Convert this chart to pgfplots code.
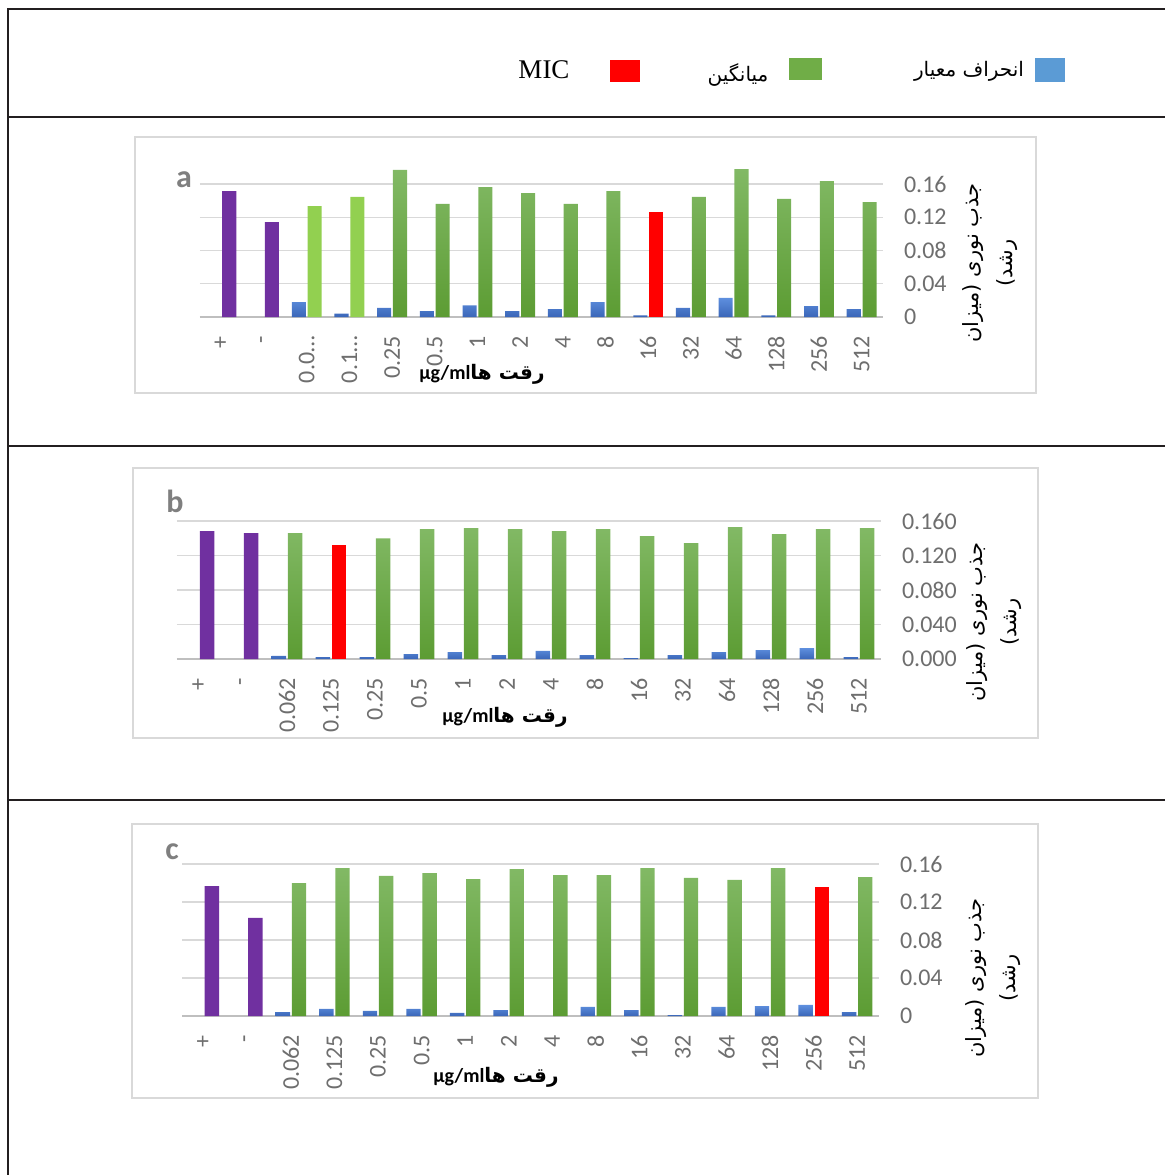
\documentclass[border=0pt]{standalone}
\usepackage{fontspec}
\usepackage{pgfplots}
\pgfplotsset{compat=1.18}
\setmainfont{Carlito}
\newfontfamily\arabicfont[Script=Arabic]{DejaVu Sans}
\newfontfamily\timesfont{Liberation Serif}
\TeXXeTstate=1

\definecolor{frame}{HTML}{231F20}
\definecolor{boxgray}{HTML}{D9D9D9}
\definecolor{gridgray}{HTML}{D9D9D9}
\definecolor{basegray}{HTML}{BFBFBF}
\definecolor{labelgray}{HTML}{6E6E6E}
\definecolor{lettergray}{HTML}{7F7F7F}
\definecolor{sdtop}{HTML}{5E8FDE}
\definecolor{sdbot}{HTML}{3A66B8}
\definecolor{gtop}{HTML}{82B965}
\definecolor{gbot}{HTML}{5C9C33}
\definecolor{lgreen}{HTML}{92D050}
\definecolor{ctrl}{HTML}{7030A0}
\definecolor{mic}{HTML}{FF0000}
\definecolor{legblue}{HTML}{5B9BD5}
\definecolor{leggreen}{HTML}{70AD47}

\pgfplotsset{
  panel/.style={
    scale only axis, anchor=south west,
    ybar, bar width=0.33,
    xmin=-0.5, xmax=15.5, ymin=0,
    xtick={0,...,15},
    axis line style={draw=none},
    ymajorgrids, grid style={draw=gridgray, line width=0.6pt},
    extra y ticks={0}, extra y tick labels={},
    extra y tick style={grid style={draw=basegray, line width=0.8pt}},
    tick style={draw=none}, major tick length=0pt,
    yticklabel pos=right, yticklabel shift=7pt,
    xticklabel shift=6pt,
    tick label style={font=\fontsize{12}{14}\selectfont, text=labelgray},
    xticklabel style={rotate=90, anchor=east},
    yticklabel style={anchor=west},
    clip=false,
  },
  sd/.style={draw=none, bar shift=-0.185, top color=sdtop, bottom color=sdbot},
  mean/.style={draw=none, bar shift=0.185, top color=gtop, bottom color=gbot},
  mctrl/.style={draw=none, bar shift=0.185, fill=ctrl},
  mlight/.style={draw=none, bar shift=0.185, fill=lgreen},
  mmic/.style={draw=none, bar shift=0.185, fill=mic},
}

\begin{document}
\begin{tikzpicture}

% panel a
\begin{axis}[panel, at={(100pt,-158.5pt)}, width=341.5pt, height=74.8pt,
  ymax=0.18, ytick={0,0.04,0.08,0.12,0.16},
  yticklabels={0,0.04,0.08,0.12,0.16},
  xticklabels={+,-,0.0…,0.1…,0.25,0.5,1,2,4,8,16,32,64,128,256,512}]
\addplot[sd] coordinates {(2,0.018) (3,0.004) (4,0.011) (5,0.007) (6,0.014) (7,0.007) (8,0.0096) (9,0.018) (10,0.002) (11,0.011) (12,0.023) (13,0.002) (14,0.013) (15,0.0096)};
\addplot[mctrl] coordinates {(0,0.1516) (1,0.1143)};
\addplot[mlight] coordinates {(2,0.1335) (3,0.1444)};
\addplot[mean] coordinates {(4,0.177) (5,0.136) (6,0.1564) (7,0.149) (8,0.136) (9,0.1516) (11,0.1444) (12,0.178) (13,0.142) (14,0.1636) (15,0.1383)};
\addplot[mmic] coordinates {(10,0.1263)};
\end{axis}

% panel b
\begin{axis}[panel, at={(88.5pt,-329.5pt)}, width=352pt, height=69pt,
  ymax=0.16, ytick={0,0.04,0.08,0.12,0.16},
  yticklabels={0.000,0.040,0.080,0.120,0.160},
  xticklabels={+,-,0.062,0.125,0.25,0.5,1,2,4,8,16,32,64,128,256,512}]
\addplot[sd] coordinates {(2,0.0035) (3,0.0023) (4,0.0023) (5,0.0058) (6,0.0081) (7,0.0046) (8,0.0093) (9,0.0046) (10,0.001) (11,0.0046) (12,0.0081) (13,0.0104) (14,0.0127) (15,0.0023)};
\addplot[mctrl] coordinates {(0,0.1484) (1,0.146)};
\addplot[mean] coordinates {(2,0.146) (4,0.140) (5,0.1507) (6,0.1518) (7,0.1507) (8,0.1484) (9,0.1507) (10,0.1426) (11,0.1345) (12,0.153) (13,0.1449) (14,0.1507) (15,0.1518)};
\addplot[mmic] coordinates {(3,0.132)};
\end{axis}

% panel c
\begin{axis}[panel, at={(91pt,-508pt)}, width=348.5pt, height=76pt,
  ymax=0.16, ytick={0,0.04,0.08,0.12,0.16},
  yticklabels={0,0.04,0.08,0.12,0.16},
  xticklabels={+,-,0.062,0.125,0.25,0.5,1,2,4,8,16,32,64,128,256,512}]
\addplot[sd] coordinates {(2,0.0042) (3,0.0074) (4,0.0053) (5,0.0074) (6,0.0032) (7,0.0063) (9,0.0095) (10,0.0063) (11,0.001) (12,0.0095) (13,0.0105) (14,0.0116) (15,0.0042)};
\addplot[mctrl] coordinates {(0,0.1368) (1,0.1032)};
\addplot[mean] coordinates {(2,0.140) (3,0.1558) (4,0.1474) (5,0.1505) (6,0.1442) (7,0.1547) (8,0.1484) (9,0.1484) (10,0.1558) (11,0.1453) (12,0.1432) (13,0.1558) (15,0.1463)};
\addplot[mmic] coordinates {(14,0.1358)};
\end{axis}

\begin{scope}[x=0.5pt, y=-0.5pt]
  % table rules
  \draw[frame, line width=1pt] (8,1175) -- (8,9) -- (1165,9);
  \draw[frame, line width=1pt] (8,117) -- (1165,117);
  \draw[frame, line width=1pt] (8,446) -- (1165,446);
  \draw[frame, line width=1pt] (8,800) -- (1165,800);
  % chart frames
  \draw[boxgray, line width=0.8pt] (135,137) rectangle (1036,393);
  \draw[boxgray, line width=0.8pt] (133,468) rectangle (1038,738);
  \draw[boxgray, line width=0.8pt] (132,824) rectangle (1038,1098);
  % legend
  \fill[legblue] (1035,58) rectangle (1065,82);
  \fill[leggreen] (789,58) rectangle (822,80);
  \fill[mic] (610,60) rectangle (640,82);
  \node[font=\arabicfont\fontsize{10}{12}\selectfont] at (969,71) {\beginR انحراف معیار\endR};
  \node[font=\arabicfont\fontsize{10}{12}\selectfont] at (738,75) {\beginR میانگین\endR};
  \node[font=\timesfont\fontsize{13.5}{15}\selectfont] at (544,70) {MIC};
  % panel letters
  \node[font=\bfseries\fontsize{16}{18}\selectfont, text=lettergray] at (184,180) {a};
  \node[font=\bfseries\fontsize{16}{18}\selectfont, text=lettergray] at (175,501) {b};
  \node[font=\bfseries\fontsize{16}{18}\selectfont, text=lettergray] at (172,852) {c};
  % x titles
  \foreach \px/\py in {482/374, 505/717, 496/1077}
    \node[inner sep=0pt] at (\px,\py) {\bfseries\fontsize{10}{12}\selectfont µg/ml{\arabicfont\beginR رقت ها\endR}};
  % y titles
  \foreach \px/\py in {990/263, 994/622, 993/978}
    \node[rotate=90, align=center, font=\arabicfont\fontsize{10.5}{17}\selectfont] at (\px,\py)
      {\beginR جذب نوری (میزان\endR\\\beginR رشد)\endR};
\end{scope}

\pgfresetboundingbox
\path[use as bounding box] (0,0) rectangle (582.5pt,-587.5pt);
\end{tikzpicture}
\end{document}
